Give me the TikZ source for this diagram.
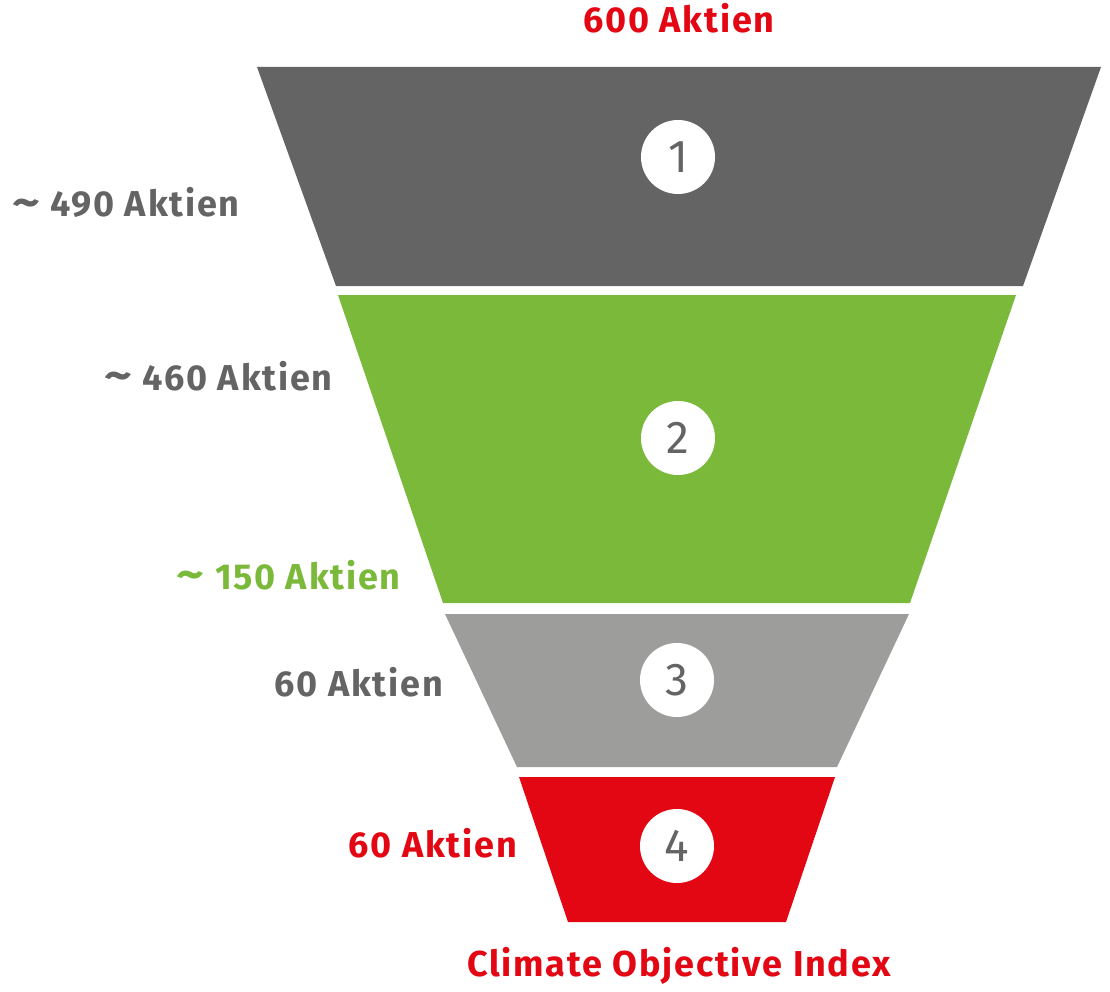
\documentclass[tikz,border=0pt]{standalone}
\usepackage{graphicx}
\usepackage{fontspec}
\setmainfont{Fira Sans}
\newfontfamily\lblfont[LetterSpace=5]{Fira Sans}
\newcommand{\tld}{\raisebox{-0.02em}{\scalebox{1.5}[1.25]{\textasciitilde}}}
\definecolor{dgrey}{HTML}{646464}
\definecolor{fgreen}{HTML}{7AB93A}
\definecolor{lgrey}{HTML}{9D9D9C}
\definecolor{fred}{HTML}{E30613}
\tikzset{
  numcirc/.style={circle, fill=white, minimum size=74pt, inner sep=0pt, text=dgrey, font=\fontsize{46}{46}\selectfont},
  lbl/.style={inner sep=0pt, font=\lblfont\fontsize{36}{36}\selectfont\bfseries}
}
\begin{document}
\begin{tikzpicture}[x=1pt,y=-1pt]
\useasboundingbox (0,0) rectangle (1110,992);
% stages
\fill[dgrey]  (257,67) -- (1101,67) -- (1023,286) -- (336,286) -- cycle;
\fill[fgreen] (338,295) -- (1016,295) -- (910,603) -- (443,603) -- cycle;
\fill[lgrey]  (445,614) -- (909,614) -- (837,767) -- (517,767) -- cycle;
\fill[fred]   (519,777) -- (835,777) -- (786,922) -- (568,922) -- cycle;
% numbers
\node[numcirc] (n1) at (678,157) {1};
\node[numcirc] (n2) at (678,438) {2};
\node[numcirc] (n3) at (677,680) {3};
\node[numcirc] (n4) at (677,846) {4};
% labels
\node[lbl, text=fred, anchor=base] (l600) at (679,33) {600 Aktien};
\node[lbl, text=dgrey, anchor=base east] (l490) at (240,217) {\tld\ 490 Aktien};
\node[lbl, text=dgrey, anchor=base east] (l460) at (333,390) {\tld\ 460 Aktien};
\node[lbl, text=fgreen, anchor=base east] (l150) at (401,589) {\tld\ 150 Aktien};
\node[lbl, text=dgrey, anchor=base east] (l60a) at (443,696) {60 Aktien};
\node[lbl, text=fred, anchor=base east] (l60b) at (517,857) {60 Aktien};
\node[lbl, text=fred, anchor=base] (lcoi) at (679,976) {Climate Objective Index};
\end{tikzpicture}
\end{document}
